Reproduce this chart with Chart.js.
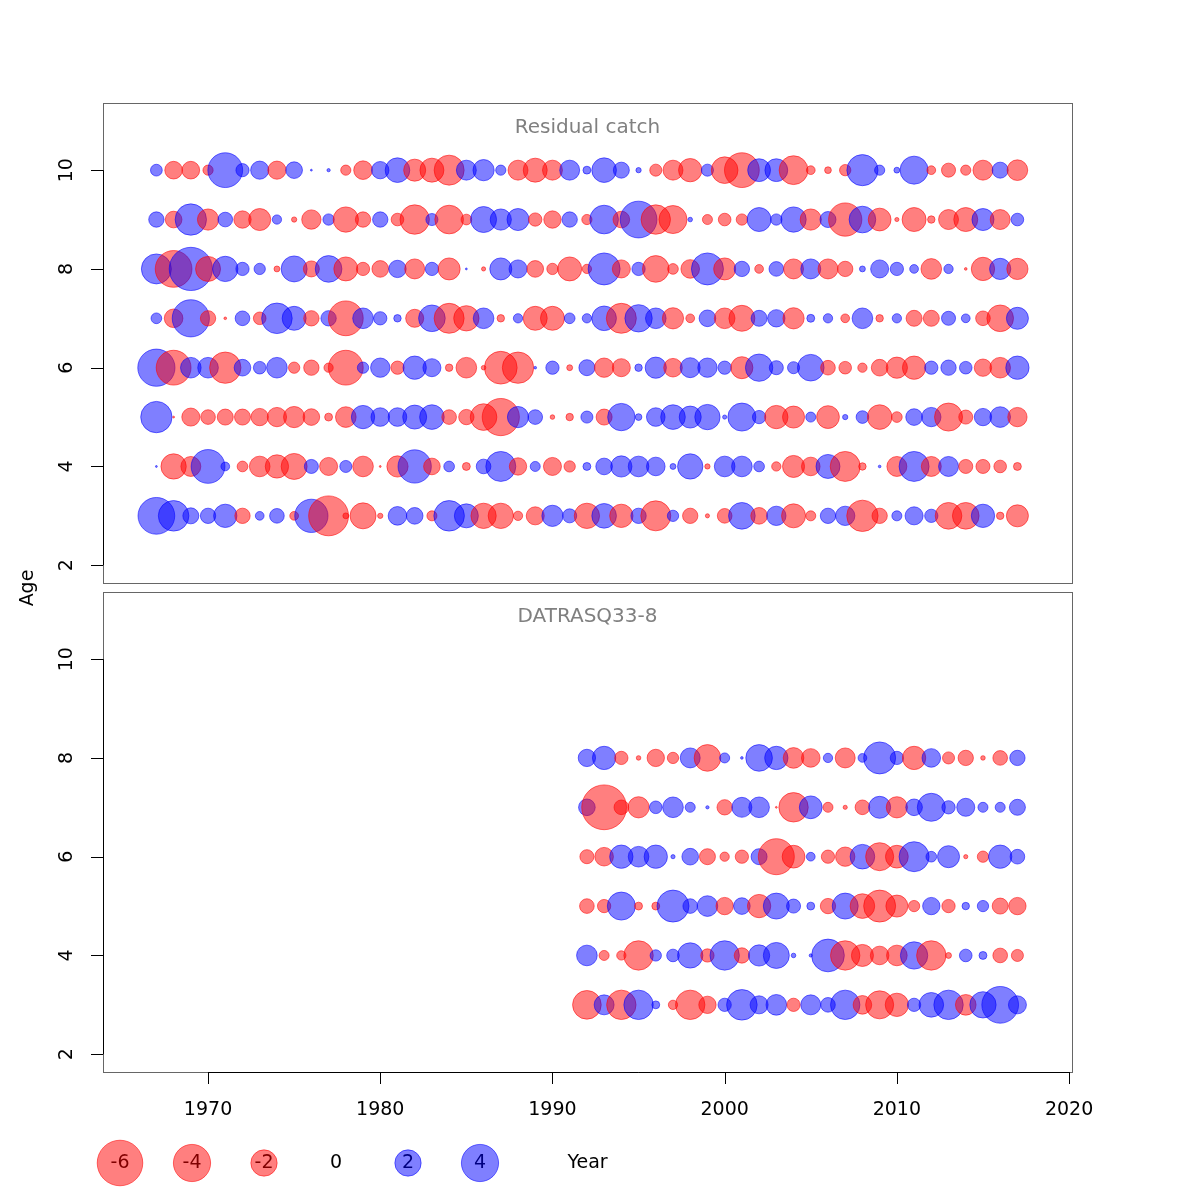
<!DOCTYPE html>
<html>
<head>
<meta charset="utf-8">
<script src="https://cdn.jsdelivr.net/npm/chart.js@4.4.1/dist/chart.umd.min.js"></script>
<style>
body { margin: 0; background: #fff; }
#wrap { position: relative; width: 1200px; height: 1200px; }
canvas { position: absolute; left: 0; top: 0; }
</style>
</head>
<body>
<div id="wrap">
<canvas id="catchChart" width="1200" height="1200"></canvas>
<canvas id="surveyChart" width="1200" height="1200"></canvas>
<canvas id="legendChart" width="1200" height="1200"></canvas>
</div>
<script>
// years and ages
const catchYears = [1967, 1968, 1969, 1970, 1971, 1972, 1973, 1974, 1975, 1976,
    1977, 1978, 1979, 1980, 1981, 1982, 1983, 1984, 1985, 1986,
    1987, 1988, 1989, 1990, 1991, 1992, 1993, 1994, 1995, 1996,
    1997, 1998, 1999, 2000, 2001, 2002, 2003, 2004, 2005, 2006,
    2007, 2008, 2009, 2010, 2011, 2012, 2013, 2014, 2015, 2016, 2017];
const surveyYears = [1992, 1993, 1994, 1995, 1996, 1997, 1998, 1999, 2000, 2001,
    2002, 2003, 2004, 2005, 2006, 2007, 2008, 2009, 2010, 2011,
    2012, 2013, 2014, 2015, 2016, 2017];

// residual catch, one array per age
const catchAge3 = [3.9, 2.7, 0.74, 0.68, 1.57, -0.68, 0.22, 0.62, -0.22, 3.2,
    -4.6, -0.1, -1.95, -0.08, 1.0, 0.8, -0.29, 2.7, 1.66, -1.85,
    -1.85, -0.25, -0.94, 1.3, 0.57, -1.85, 1.75, -1.57, 0.68, -2.6,
    0.37, -0.68, -0.05, -0.62, 2.05, -0.8, 1.08, -1.66, -0.29, 0.68,
    1.08, -2.84, -0.68, 0.29, 0.94, 0.51, -2.05, -2.05, 1.57, -0.16, -1.4];
const catchAge4 = [0.01, -1.85, -1.15, 3.3, 0.22, -0.33, -1.23, -1.57, -1.95, 0.57,
    -0.94, 0.42, -1.23, -0.01, -1.3, 3.2, -0.8, 0.33, -0.18, 0.62,
    2.6, -0.87, 0.29, -0.94, -0.37, 0.18, 0.8, 1.3, 1.23, 1.0,
    0.1, 1.85, -0.08, 1.23, 1.23, 0.33, -0.25, -1.4, -1.0, 1.66,
    -2.6, -0.16, 0.02, -1.15, 2.6, -1.15, 1.15, -0.57, -0.57, -0.46, -0.18];
const catchAge5 = [2.84, -0.01, -0.94, -0.62, -0.74, -0.74, -0.87, -1.08, -1.3, -0.8,
    -0.18, -1.23, 1.57, 1.0, 1.0, 1.66, 1.75, -0.62, -0.68, -2.05,
    -4.0, 1.3, 0.62, -0.06, -0.16, 0.42, -0.74, 2.16, 0.13, 1.0,
    1.75, 1.4, 1.85, 0.05, 2.27, 0.51, -1.57, -1.4, 0.29, -1.5,
    0.08, 0.46, -1.75, -0.33, 0.8, 1.08, -2.27, -0.57, 0.87, 1.23, -1.08];
const catchAge6 = [4.0, -3.5, 1.23, 1.23, -2.84, 0.8, 0.46, 1.23, -0.37, -0.68,
    -0.25, -3.5, 0.37, 1.08, -0.51, 1.57, 0.94, -0.16, -1.23, -0.06,
    -3.1, -2.84, 0.02, 0.51, -0.1, 0.74, -1.08, -0.94, 0.16, 1.3,
    -1.0, 1.15, 1.08, 0.51, -1.4, 2.16, 0.57, 0.42, 2.05, -0.62,
    -0.46, -0.25, -0.8, -1.3, -1.57, 0.51, 0.68, 0.46, -0.87, -1.23, 1.57];
const catchAge7 = [0.33, -1.0, 4.0, -0.68, -0.02, 0.62, -0.46, 2.7, 1.66, -0.68,
    0.68, -3.5, 1.23, 0.51, 0.16, -0.94, 2.05, -2.6, -1.85, 1.23,
    -0.16, 0.25, -1.66, -1.66, 0.33, 0.25, 1.75, -2.6, 2.16, 1.23,
    -1.3, -0.22, 0.8, -1.23, -1.95, 0.74, 0.87, -1.3, 0.18, 0.25,
    -0.22, 1.23, -0.16, 0.25, -0.74, -0.74, 0.57, 0.22, -0.62, -2.05, 1.4];
const catchAge8 = [2.6, -3.9, 5.4, -1.8, 1.85, 0.51, 0.37, -0.1, 1.95, -0.74,
    2.05, -1.66, -0.51, -0.8, 0.87, -1.15, 0.51, -1.4, 0.01, -0.05,
    1.4, 0.94, -0.8, -0.37, -1.66, -0.25, 2.96, -0.94, 0.51, -2.05,
    -0.33, -1.0, 2.96, -1.4, 0.68, -0.22, 0.62, -1.15, 1.15, -1.15,
    -0.68, 0.1, 0.94, 0.51, 0.22, -1.23, 0.25, -0.02, -1.57, 1.3, -1.3];
const catchAge9 = [0.68, -0.8, 2.84, -1.3, 0.62, -0.87, -1.4, 0.25, -0.08, -1.08,
    0.37, -1.85, -0.68, 0.68, -0.46, -2.5, 0.42, -2.37, -0.33, 1.95,
    1.3, 1.4, -0.51, -0.87, 0.68, -0.3, 2.37, -0.8, 3.9, -2.5,
    -2.27, 0.06, -0.29, -0.46, -0.37, 1.66, 0.37, 1.85, -1.3, 0.74,
    -3.2, 2.05, -1.5, -0.05, -1.66, -0.16, -1.15, -1.66, 1.4, -1.15, 0.46];
const catchAge10 = [0.4, -0.9, -0.9, -0.3, 3.5, 0.5, 0.95, -0.95, 0.8, 0.01,
    0.03, -0.3, -1.0, 0.87, 1.75, -1.4, -1.66, -2.6, 1.15, 1.3,
    0.3, -1.15, -1.66, -1.15, 1.15, 0.18, 1.75, 0.74, 0.08, -0.42,
    -1.15, -1.57, 0.42, -2.05, -3.5, 1.5, 1.5, -2.4, -0.22, -0.13,
    -0.37, 2.8, 0.3, 0.1, 2.27, -0.22, -0.57, -0.3, -1.15, 0.74, -1.23];

// DATRASQ33-8 survey residuals
const surveyAge3 = [-2.37, 1.15, -2.5, 2.5, 0.18, -0.25, -2.5, -0.87, 0.51, 2.7,
    0.94, 1.23, -0.51, 1.15, 0.62, 2.5, -1.0, -2.27, -1.57, 0.51,
    1.75, 2.5, -1.23, 2.0, 3.9, 0.94];
const surveyAge4 = [1.23, -0.29, -0.25, -2.5, 0.37, 0.46, 1.85, -0.51, 2.5, -0.68,
    1.3, 1.95, 0.06, 0.03, 3.1, -2.5, -1.4, -1.0, -1.23, 2.16,
    -2.5, -0.1, 0.46, 0.18, -0.62, -0.42];
const surveyAge5 = [-0.62, -0.51, 2.27, -0.18, -0.18, 2.96, 0.62, 1.23, -0.87, 0.8,
    -1.57, 1.95, 0.57, 0.18, -0.68, 1.95, -1.75, -2.96, -1.4, -0.37,
    0.87, -0.51, 0.16, 0.37, -0.74, -0.87];
const surveyAge6 = [-0.57, -1.0, 1.57, 1.23, 1.57, 0.05, 0.8, -0.74, -0.25, -0.51,
    0.74, -3.75, -1.5, 0.22, -0.51, -1.08, 1.75, -2.27, -1.5, 2.6,
    0.33, 1.4, -0.05, -0.37, 1.57, 0.62];
const surveyAge7 = [0.8, -5.8, -0.62, -1.3, 0.46, 1.23, 0.29, 0.03, -0.68, 1.15,
    1.23, -0.01, -2.5, 1.5, -0.29, -0.05, -0.62, 1.4, -1.3, 0.8,
    2.27, 0.51, 0.94, 0.29, 0.29, 0.74];
const surveyAge8 = [0.87, 1.57, -0.51, -0.06, -0.87, -0.37, 1.15, -2.05, 0.29, 0.02,
    2.05, 1.57, -1.23, -1.0, 0.25, -1.15, 0.22, 2.96, 0.51, -1.57,
    1.0, -0.42, -0.68, -0.06, -0.62, 0.68];

const ageTicks = [2, 4, 6, 8, 10];
const yearTicks = [1970, 1980, 1990, 2000, 2010, 2020];
const legendValues = [-6, -4, -2, 0, 2, 4];

const catchRows = [[3, catchAge3], [4, catchAge4], [5, catchAge5], [6, catchAge6],
    [7, catchAge7], [8, catchAge8], [9, catchAge9], [10, catchAge10]];
const surveyRows = [[3, surveyAge3], [4, surveyAge4], [5, surveyAge5],
    [6, surveyAge6], [7, surveyAge7], [8, surveyAge8]];

const RED = "rgba(255,0,0,0.5)";
const BLUE = "rgba(0,0,255,0.5)";
const SCALE = 9.3;
const FONT = "'DejaVu Sans', sans-serif";

function bubbleRadius(v) {
    return SCALE * Math.sqrt(Math.abs(v));
}

function buildPoints(years, rows) {
    const pts = [];
    rows.forEach(([age, vals]) => {
        vals.forEach((v, i) => {
            pts.push({ x: years[i], y: age, r: bubbleRadius(v), v: v });
        });
    });
    return pts;
}

function panelPlugin(title, showYears) {
    return {
        id: "panel",
        afterDraw(chart) {
            const ctx = chart.ctx;
            const a = chart.chartArea;
            const ys = chart.scales.y;
            const xs = chart.scales.x;
            ctx.save();
            ctx.strokeStyle = "#666";
            ctx.lineWidth = 1;
            ctx.strokeRect(a.left + 0.5, a.top + 0.5, a.right - a.left, a.bottom - a.top);

            // y axis
            ctx.strokeStyle = "#000";
            ctx.beginPath();
            ctx.moveTo(a.left + 0.5, ys.getPixelForValue(ageTicks[0]));
            ctx.lineTo(a.left + 0.5, ys.getPixelForValue(ageTicks[ageTicks.length - 1]));
            ageTicks.forEach(t => {
                const y = Math.round(ys.getPixelForValue(t)) + 0.5;
                ctx.moveTo(a.left - 12, y);
                ctx.lineTo(a.left, y);
            });
            ctx.stroke();
            ctx.fillStyle = "#000";
            ctx.font = "19px " + FONT;
            ctx.textAlign = "center";
            ctx.textBaseline = "middle";
            ageTicks.forEach(t => {
                ctx.save();
                ctx.translate(a.left - 36, ys.getPixelForValue(t));
                ctx.rotate(-Math.PI / 2);
                ctx.fillText(String(t), 0, 0);
                ctx.restore();
            });

            // title
            ctx.fillStyle = "#808080";
            ctx.font = "20px " + FONT;
            ctx.fillText(title, (a.left + a.right) / 2, a.top + 25);

            if (showYears) {
                ctx.strokeStyle = "#000";
                ctx.beginPath();
                ctx.moveTo(xs.getPixelForValue(yearTicks[0]), a.bottom + 0.5);
                ctx.lineTo(xs.getPixelForValue(yearTicks[yearTicks.length - 1]), a.bottom + 0.5);
                yearTicks.forEach(t => {
                    const x = Math.round(xs.getPixelForValue(t)) + 0.5;
                    ctx.moveTo(x, a.bottom);
                    ctx.lineTo(x, a.bottom + 12);
                });
                ctx.stroke();
                ctx.fillStyle = "#000";
                ctx.font = "19px " + FONT;
                yearTicks.forEach(t => {
                    ctx.fillText(String(t), xs.getPixelForValue(t), a.bottom + 38);
                });
                ctx.fillText("Year", (a.left + a.right) / 2, 1163);
                ctx.save();
                ctx.translate(28, 588);
                ctx.rotate(-Math.PI / 2);
                ctx.fillText("Age", 0, 0);
                ctx.restore();
            }
            ctx.restore();
        }
    };
}

function makePanel(id, years, rows, title, showYears, pad) {
    return new Chart(document.getElementById(id), {
        type: "bubble",
        data: {
            datasets: [{
                data: buildPoints(years, rows),
                backgroundColor: c => (c.raw && c.raw.v < 0 ? RED : BLUE),
                borderColor: c => (c.raw && c.raw.v < 0 ? "rgba(255,0,0,0.55)" : "rgba(0,0,255,0.55)"),
                borderWidth: 1
            }]
        },
        options: {
            responsive: false,
            animation: false,
            devicePixelRatio: 1,
            events: [],
            layout: { padding: pad, autoPadding: false },
            scales: {
                x: { type: "linear", min: 1963.9, max: 2020.17, display: false },
                y: { type: "linear", min: 1.64, max: 11.36, display: false }
            },
            plugins: { legend: { display: false }, tooltip: { enabled: false } }
        },
        plugins: [panelPlugin(title, showYears)]
    });
}

makePanel("catchChart", catchYears, catchRows, "Residual catch", false,
    { left: 103, right: 128, top: 103, bottom: 617 });
makePanel("surveyChart", surveyYears, surveyRows, "DATRASQ33-8", true,
    { left: 103, right: 128, top: 592, bottom: 128 });

// size legend under the x axis
new Chart(document.getElementById("legendChart"), {
    type: "bubble",
    data: {
        labels: legendValues.map(String),
        datasets: [{
            data: legendValues.map(v => ({ x: String(v), y: 0, r: bubbleRadius(v), v: v })),
            backgroundColor: c => (c.raw && c.raw.v < 0 ? RED : BLUE),
            borderColor: c => (c.raw && c.raw.v < 0 ? "rgba(255,0,0,0.55)" : "rgba(0,0,255,0.55)"),
            borderWidth: 1,
            clip: false
        }]
    },
    options: {
        responsive: false,
        animation: false,
        devicePixelRatio: 1,
        events: [],
        layout: { padding: { left: 120, right: 720, top: 1133, bottom: 7 }, autoPadding: false },
        scales: {
            x: { type: "category", offset: false, display: false },
            y: { type: "linear", min: -1, max: 1, display: false }
        },
        plugins: { legend: { display: false }, tooltip: { enabled: false } }
    },
    plugins: [{
        id: "legendText",
        beforeDatasetsDraw(chart) {
            const ctx = chart.ctx;
            const meta = chart.getDatasetMeta(0);
            ctx.save();
            ctx.fillStyle = "#000";
            ctx.font = "19px " + FONT;
            ctx.textAlign = "center";
            ctx.textBaseline = "middle";
            meta.data.forEach((el, i) => {
                ctx.fillText(String(legendValues[i]), el.x, el.y);
            });
            ctx.restore();
        }
    }]
});
</script>
</body>
</html>
